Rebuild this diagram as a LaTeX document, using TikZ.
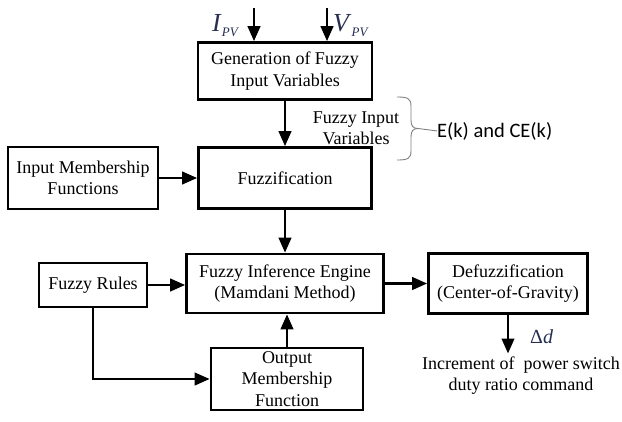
\documentclass[tikz,border=0pt]{standalone}
\usepackage{fontspec}
\setmainfont{Liberation Serif}
\newfontfamily\carlito{Carlito}
\usetikzlibrary{arrows.meta}
\definecolor{chave}{rgb}{0.5,0.5,0.5}
\definecolor{azulado}{rgb}{0.15,0.18,0.32}
\newcommand{\indpv}{\raisebox{-5pt}{\fontsize{13}{13}\selectfont\textit{PV}}}

\begin{document}
\begin{tikzpicture}[x=1pt, y=-1pt,
    bloco/.style={draw=black, line width=2.7pt, align=center, inner sep=0pt, font=\fontsize{18}{21.5}\selectfont},
    seta/.style={line width=2.6pt, -{Triangle[length=15pt,width=12.5pt]}},
    rotulo/.style={align=center, inner sep=0pt, font=\fontsize{18}{21}\selectfont}]
            \useasboundingbox (0,0) rectangle (622,421);

            \node[bloco, minimum width=174, minimum height=57] (gen) at (285,71) {Generation of Fuzzy\\Input Variables};
            \node[bloco, minimum width=173, minimum height=61] (fuzz) at (285,178) {Fuzzification};
            \node[bloco, minimum width=150, minimum height=62] (imf) at (83,178) {Input Membership\\Functions};
            \node[bloco, minimum width=197, minimum height=59] (fie) at (285,283.5) {Fuzzy Inference Engine\\(Mamdani Method)};
            \node[bloco, minimum width=108, minimum height=44] (rules) at (93,285) {Fuzzy Rules};
            \node[bloco, minimum width=152, minimum height=62] (omf) at (287,379) {Output\\Membership\\Function};
            \node[bloco, minimum width=159, minimum height=60] (defuzz) at (508,283.5) {Defuzzification\\(Center-of-Gravity)};

            \coordinate (ipv) at (254,8);
            \coordinate (vpv) at (327,8);
            \node[inner sep=0pt, anchor=base west, text=azulado, font=\fontsize{26}{26}\selectfont] (ilab) at (212,31) {\textit{I}\indpv};
            \node[inner sep=0pt, anchor=base west, text=azulado, font=\fontsize{26}{26}\selectfont] (vlab) at (333,31) {\textit{V}\indpv};

            \node[rotulo] (fiv) at (356,128) {Fuzzy Input\\Variables};
            \node[inner sep=0pt, anchor=base west, font=\carlito\fontsize{20.5}{24}\selectfont] (ek) at (437,137) {E(k) and CE(k)};
            \coordinate (ponta) at (418,128.5);

            \node[rotulo, anchor=north] (inc) at (521,356.5) {Increment of~ power switch\\duty ratio command};
            \node[inner sep=0pt, anchor=base west, text=azulado, font=\fontsize{20}{20}\selectfont] (dd) at (530,343) {Δ\textit{d}};

            \draw[seta] (ipv) -- (ipv |- gen.north);
            \draw[seta] (vpv) -- (vpv |- gen.north);
            \draw[seta] (gen.south) -- (fuzz.north);
            \draw[seta] (imf.east) -- (fuzz.west);
            \draw[seta] (fuzz.south) -- (fie.north);
            \draw[seta] (rules.east) -- (rules.east -| fie.west);
            \draw[seta] (rules.south) |- (omf.west);
            \draw[seta] (omf.north) -- (omf.north |- fie.south);
            \draw[seta] (fie.east) -- (defuzz.west);
            \draw[seta, shorten >=3pt] (defuzz.south) -- (defuzz.south |- inc.north);

            \draw[chave, line width=0.9pt] (397,97) .. controls (407,97) and (411,98) .. (411,106) -- (411,120) .. controls (411,126) and (413,128.5) .. (ponta);
            \draw[chave, line width=0.9pt] (ponta) .. controls (413,128.5) and (411,131) .. (411,137) -- (411,151) .. controls (411,159) and (407,160) .. (397,160);
            \draw[chave, line width=0.9pt] (ponta) -- (ek.west);
        \end{tikzpicture}
\end{document}
